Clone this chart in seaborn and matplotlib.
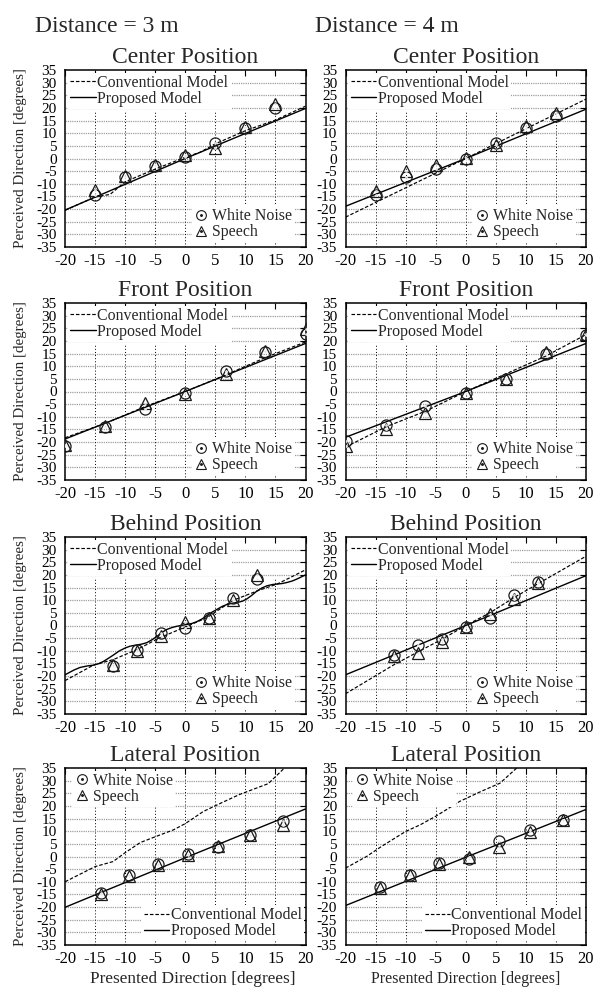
import matplotlib
matplotlib.use("Agg")
import matplotlib.pyplot as plt
import seaborn as sns
import numpy as np
from matplotlib.lines import Line2D

sns.set_style("white")
plt.rcParams['font.family'] = ['Liberation Serif', 'DejaVu Serif']

# ---------------- data ----------------
x_ticks = [-20, -15, -10, -5, 0, 5, 10, 15, 20]
y_ticks = [-35, -30, -25, -20, -15, -10, -5, 0, 5, 10, 15, 20, 25, 30, 35]

# Center position
center_x = [-15, -10, -5, 0, 5, 10, 15]
c3_noise = [-14.5, -7.3, -3.0, 0.7, 6.0, 11.9, 19.8]
c3_speech = [-12.3, -6.8, -2.4, 1.2, 4.0, 12.4, 21.5]
c3_conv_x = [-20, -15, -12.5, -10, -5, 0, 2.5, 5, 10, 15, 20]
c3_conv_y = [-20.5, -15.2, -14.2, -9.2, -4.2, 0.5, 2.5, 5.8, 11.0, 15.2, 20.7]
c3_prop_x = [-20, 0, 20]
c3_prop_y = [-20.4, 0.0, 19.8]

c4_noise = [-14.3, -7.5, -4.0, 0.0, 6.0, 12.2, 16.8]
c4_speech = [-12.8, -4.8, -2.6, 0.3, 5.2, 12.8, 18.0]
c4_conv_x = [-20, 0, 20]
c4_conv_y = [-23.2, 0.0, 23.5]
c4_prop_x = [-20, 0, 20]
c4_prop_y = [-18.9, 0.0, 19.5]

# Front position
front_x = [-20, -13.3, -6.7, 0, 6.7, 13.3, 20]
f3_noise = [-21.4, -13.9, -6.8, -0.6, 8.2, 15.5, 22.6]
f3_speech = [-21.0, -13.5, -4.6, -0.9, 7.1, 16.0, 24.6]
f3_conv_x = [-20, -13.3, -6.7, 0, 6.7, 13.3, 20]
f3_conv_y = [-18.3, -12.6, -6.0, 0.0, 6.5, 13.4, 19.6]
f3_prop_x = [-20, 0, 20]
f3_prop_y = [-18.8, 0.0, 19.0]

f4_noise = [-19.7, -13.2, -5.8, -0.6, 5.1, 15.0, 22.3]
f4_speech = [-21.7, -14.8, -8.6, -0.6, 5.0, 15.6, 22.6]
f4_conv_x = [-20, -13.3, -6.7, 0, 6.7, 13.3, 20]
f4_conv_y = [-22.0, -14.0, -7.8, 0.0, 7.0, 14.0, 22.5]
f4_prop_x = [-20, 0, 20]
f4_prop_y = [-18.1, 0.0, 19.0]

# Behind position
behind_x = [-12, -8, -4, 0, 4, 8, 12]
b3_noise = [-15.9, -9.5, -2.9, -1.1, 2.9, 10.7, 18.4]
b3_speech = [-15.5, -10.1, -4.2, 1.5, 3.1, 10.2, 20.0]
b3_conv_x = [-20, -15.3, -12, -8, -4.2, 0, 3.6, 8, 12, 15.3, 20]
b3_conv_y = [-21.8, -15.7, -13.5, -9.5, -4.8, -0.6, 3.1, 10.0, 13.7, 16.4, 22.0]
b3_prop_x = [-20, -18.5, -17.5, -16.3, -15.3, -14.4, -13.6, -12.8, -11.9, -11.0,
             -10.0, -9.2, -8.3, -7.3, -6.4, -5.5, -4.7, -3.9, -3.1, -2.2,
             -1.4, -0.5, 0.3, 1.1, 1.9, 2.8, 3.6, 4.4, 5.3, 6.1, 6.9, 7.8,
             8.6, 9.5, 10.3, 11.1, 11.9, 12.8, 13.6, 14.5, 15.3, 16.1, 16.9,
             17.8, 18.6, 19.3, 20]
b3_prop_y = [-19.5, -17.6, -16.6, -16.0, -15.7, -15.1, -14.2, -13.0, -11.6, -10.1,
             -8.9, -8.2, -7.8, -7.4, -6.8, -5.6, -4.3, -2.8, -1.6, -0.8,
             -0.3, 0.1, 0.4, 0.8, 1.5, 2.6, 3.9, 5.2, 6.4, 7.5, 8.3, 8.8,
             9.1, 9.6, 10.6, 12.0, 13.6, 14.9, 15.7, 16.2, 16.4, 16.6, 17.0,
             17.6, 18.4, 19.2, 20.0]

b4_noise = [-11.5, -7.8, -5.5, -0.6, 2.9, 12.2, 17.3]
b4_speech = [-12.2, -10.8, -6.4, -0.6, 4.5, 10.4, 16.7]
b4_conv_x = [-20, -12, -8, -4, 0, 4, 8, 12, 20]
b4_conv_y = [-27.0, -15.6, -10.5, -5.5, 0.0, 5.0, 11.0, 16.5, 27.4]
b4_prop_x = [-20, 0, 20]
b4_prop_y = [-19.5, 0.0, 19.7]

# Lateral position
l3_x = [-14, -9.3, -4.5, 0.5, 5.5, 10.8, 16.2]
l3_noise = [-14.3, -7.4, -2.9, 0.9, 3.6, 8.7, 13.9]
l3_speech = [-14.8, -7.7, -3.3, 0.7, 4.2, 8.6, 12.5]
l3_conv_x = [-20, -15, -12, -10, -7.5, -5, -2, 0, 3, 6, 9, 12, 13.8, 16.5, 18]
l3_conv_y = [-10.0, -4.0, -2.0, 1.5, 5.5, 7.8, 10.5, 13.0, 17.8, 21.2, 24.5,
             27.2, 28.8, 35.0, 38.0]
l3_prop_x = [-20, 0, 20]
l3_prop_y = [-20.1, -0.5, 18.8]

l4_x = [-14.2, -9.3, -4.4, 0.5, 5.5, 10.7, 16.1]
l4_noise = [-11.9, -7.3, -2.6, -0.9, 6.3, 10.3, 14.3]
l4_speech = [-12.5, -7.5, -2.9, -0.3, 3.7, 9.6, 14.3]
l4_conv_x = [-20, -16.5, -14, -10, -7.6, -5, -1, 2.6, 5.7, 8.2, 9.5]
l4_conv_y = [-4.6, 0.0, 4.0, 9.9, 12.5, 15.9, 21.8, 25.8, 29.0, 34.4, 37.0]
l4_prop_x = [-20, 0, 20]
l4_prop_y = [-19.4, -0.3, 18.6]

titles = ["Center Position", "Front Position", "Behind Position", "Lateral Position"]
dist_labels = ["Distance = 3 m", "Distance = 4 m"]

panels = [
    [(center_x, c3_noise, c3_speech, c3_conv_x, c3_conv_y, c3_prop_x, c3_prop_y),
     (center_x, c4_noise, c4_speech, c4_conv_x, c4_conv_y, c4_prop_x, c4_prop_y)],
    [(front_x, f3_noise, f3_speech, f3_conv_x, f3_conv_y, f3_prop_x, f3_prop_y),
     (front_x, f4_noise, f4_speech, f4_conv_x, f4_conv_y, f4_prop_x, f4_prop_y)],
    [(behind_x, b3_noise, b3_speech, b3_conv_x, b3_conv_y, b3_prop_x, b3_prop_y),
     (behind_x, b4_noise, b4_speech, b4_conv_x, b4_conv_y, b4_prop_x, b4_prop_y)],
    [(l3_x, l3_noise, l3_speech, l3_conv_x, l3_conv_y, l3_prop_x, l3_prop_y),
     (l4_x, l4_noise, l4_speech, l4_conv_x, l4_conv_y, l4_prop_x, l4_prop_y)],
]

# ---------------- layout ----------------
W, H = 595, 989
fig = plt.figure(figsize=(W / 100, H / 100), dpi=100)
col_left = [65, 345.5]
col_w = 240.5
row_top = [70, 303, 537, 768]
row_h = 177

FS_XTICK = 12
FS_YTICK = 11
FS_LEG = 11.4
FS_TITLE = 17
DASH = (0, (3.0, 1.6))
MS = 8.0

for r in range(4):
    for c in range(2):
        px, wn, sp, cx, cy, prx, pry = panels[r][c]
        ax = fig.add_axes([col_left[c] / W, 1 - (row_top[r] + row_h) / H,
                           col_w / W, row_h / H])
        ax.set_xlim(-20, 20)
        ax.set_ylim(-35, 35)
        ax.set_xticks(x_ticks)
        ax.set_yticks(y_ticks)
        ax.set_xticklabels([str(v) for v in x_ticks])
        ax.set_yticklabels([str(v) for v in y_ticks])
        ax.tick_params(direction='in', top=True, right=True, length=4,
                       width=0.8, colors='k')
        ax.tick_params(axis='x', pad=4, labelsize=FS_XTICK)
        ax.tick_params(axis='y', pad=6, labelsize=FS_YTICK)
        for s in ax.spines.values():
            s.set_linewidth(1.1)
            s.set_color('k')

        # grid
        for yv in y_ticks[1:-1]:
            ax.axhline(yv, color='0.62', lw=0.9, ls=(0, (1, 0.8)), zorder=0.5)
        vtop = 35 if r == 3 else 18.5
        ax.vlines(x_ticks[1:-1], -35, vtop, colors='k', lw=0.7,
                  linestyles=[(0, (1, 2.2))], zorder=0.6)

        # model curves
        sns.lineplot(x=cx, y=cy, ax=ax, color='k', lw=0.85, linestyle=DASH,
                     estimator=None, sort=False, zorder=2)
        sns.lineplot(x=prx, y=pry, ax=ax, color='k', lw=1.0, linestyle='-',
                     estimator=None, sort=False, zorder=2)

        # measurements
        sns.lineplot(x=px, y=wn, ax=ax, linestyle='none', marker='o',
                     markersize=MS, markerfacecolor='none', markeredgecolor='0.1',
                     markeredgewidth=0.9, estimator=None, zorder=3)
        sns.lineplot(x=px, y=sp, ax=ax, linestyle='none', marker='^',
                     markersize=MS, markerfacecolor='none', markeredgecolor='0.1',
                     markeredgewidth=0.9, estimator=None, zorder=3)
        sns.lineplot(x=px + px, y=wn + sp, ax=ax, linestyle='none', marker='.',
                     markersize=2.2, color='0.1', estimator=None, zorder=3)

        # legends
        h_conv = Line2D([], [], color='k', lw=0.85, ls=DASH)
        h_prop = Line2D([], [], color='k', lw=1.0, ls='-')
        h_wn = (Line2D([], [], ls='none', marker='o', ms=7.0, mfc='none',
                       mec='0.1', mew=0.8),
                Line2D([], [], ls='none', marker='.', ms=2.2, color='0.1'))
        h_sp = (Line2D([], [], ls='none', marker='^', ms=7.0, mfc='none',
                       mec='0.1', mew=0.8),
                Line2D([], [], ls='none', marker='.', ms=2.2, color='0.1'))
        common = dict(frameon=True, facecolor='white', edgecolor='none',
                      framealpha=1, fancybox=False, fontsize=FS_LEG,
                      labelspacing=0.0, borderpad=0.15, borderaxespad=0.0)
        if r < 3:
            leg1 = ax.legend([h_conv, h_prop], ["Conventional Model", "Proposed Model"],
                             loc='upper left', bbox_to_anchor=(0.012, 0.985),
                             handlelength=1.6, handletextpad=0.1, **common)
            ax.add_artist(leg1)
            leg2 = ax.legend([h_wn, h_sp], ["White Noise", "Speech"],
                             loc='lower right', bbox_to_anchor=(0.955, 0.025),
                             handlelength=0.9, handletextpad=0.25, **common)
        else:
            leg1 = ax.legend([h_wn, h_sp], ["White Noise", "Speech"],
                             loc='upper left', bbox_to_anchor=(0.03, 0.985),
                             handlelength=0.9, handletextpad=0.25, **common)
            ax.add_artist(leg1)
            leg2 = ax.legend([h_conv, h_prop], ["Conventional Model", "Proposed Model"],
                             loc='lower right', bbox_to_anchor=(0.995, 0.02),
                             handlelength=1.6, handletextpad=0.1, **common)
        leg1.set_zorder(5)
        leg2.set_zorder(5)

        ax.set_title(titles[r], fontsize=FS_TITLE, pad=5)
        ax.set_xlabel("")
        ax.set_ylabel("")
        if c == 0:
            ax.set_ylabel("Perceived Direction [degrees]", fontsize=10.8)
            ax.yaxis.set_label_coords(-0.16, 0.5)
        if r == 3:
            ax.set_xlabel("Presented Direction [degrees]",
                          fontsize=12.4 if c == 0 else 11.4)
            ax.xaxis.set_label_coords(0.53 if c == 0 else 0.5, -0.145)

fig.text(35 / W, 1 - 31.5 / H, dist_labels[0], fontsize=17, va='baseline', ha='left')
fig.text(315 / W, 1 - 31.5 / H, dist_labels[1], fontsize=17, va='baseline', ha='left')

fig.savefig("out.png", dpi=100)
